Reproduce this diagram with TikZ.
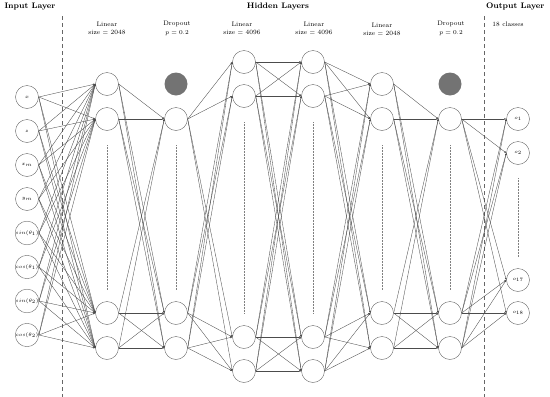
\documentclass[tikz,border=0pt]{standalone}
\usetikzlibrary{arrows.meta}
\tikzset{
  neuron/.style={circle,draw=black!60,minimum size=23pt,inner sep=0pt,font=\fontsize{5}{6}\selectfont},
  dropped/.style={circle,fill=black!55,minimum size=23pt,inner sep=0pt},
  link/.style={black!70,line width=0.35pt,-{Latex[length=2pt,width=1.8pt]}},
  layerlabel/.style={font=\fontsize{6.5}{8.5}\selectfont,align=center},
  header/.style={font=\bfseries\fontsize{8}{9}\selectfont},
  dots/.style={black!50,line width=0.4pt,dash pattern=on 0.5pt off 1pt},
  border/.style={black!60,line width=0.4pt,dash pattern=on 4pt off 3pt}
}
\begin{document}
\begin{tikzpicture}[x=1pt,y=-1pt]
  \useasboundingbox (0,0) rectangle (550,397);
  % Headers
  \node[header,anchor=west] (hin) at (1,7) {Input Layer};
  \node[header] (hhid) at (278,7) {Hidden Layers};
  \node[header,anchor=east] (hout) at (548,7) {Output Layer};
  \draw[border] (62,16) -- (62,397);
  \draw[border] (484,16) -- (484,397);
  % Layer labels
  \node[layerlabel] (t1) at (107,28.5) {Linear\\size $=$ 2048};
  \node[layerlabel] (t2) at (177,28.5) {Dropout\\$p = 0.2$};
  \node[layerlabel] (t3) at (242,28.5) {Linear\\size $=$ 4096};
  \node[layerlabel] (t4) at (314,28.5) {Linear\\size $=$ 4096};
  \node[layerlabel] (t5) at (382,29.5) {Linear\\size $=$ 2048};
  \node[layerlabel] (t6) at (451,28.5) {Dropout\\$p = 0.2$};
  \node[layerlabel] (t7) at (508,24) {18 classes};
  % Input layer
  \foreach \lbl [count=\i] in {x, z, x_m, y_m, sin(\theta_1), cos(\theta_1), sin(\theta_2), cos(\theta_2)}
    \node[neuron] (in\i) at (27,{97+34*(\i-1)}) {$\lbl$};
  % Hidden layers
  \foreach \y [count=\j] in {84,119,313,348} {
    \node[neuron] (a\j) at (107,\y) {};
    \node[neuron] (e\j) at (382,\y) {};
  }
  \foreach \y [count=\j] in {62,96,337,371} {
    \node[neuron] (c\j) at (244,\y) {};
    \node[neuron] (d\j) at (313,\y) {};
  }
  \foreach \y [count=\j] in {119,313,348} {
    \node[neuron] (b\j) at (176,\y) {};
    \node[neuron] (f\j) at (450,\y) {};
  }
  \node[dropped] (bx) at (176,84) {};
  \node[dropped] (fx) at (450,84) {};
  % Output layer
  \foreach \y/\lbl [count=\j] in {119/o_1,153/o_2,280/o_{17},313/o_{18}}
    \node[neuron] (o\j) at (518,\y) {$\lbl$};
  % Dots
  \foreach \x in {107,176,382,450}
    \draw[dots] (\x,145) -- (\x,290);
  \foreach \x in {244,313}
    \draw[dots] (\x,122) -- (\x,313);
  \draw[dots] (518,178) -- (518,257);
  % Connections
  \foreach \i in {1,...,8}
    \foreach \j in {1,...,4}
      \draw[link] (in\i.east) -- (a\j.west);
  \foreach \i in {1,...,4}
    \foreach \j in {1,...,3} {
      \draw[link] (a\i.east) -- (b\j.west);
      \draw[link] (b\j.east) -- (c\i.west);
      \draw[link] (e\i.east) -- (f\j.west);
      \draw[link] (f\j.east) -- (o\i.west);
    }
  \foreach \i in {1,...,4}
    \foreach \j in {1,...,4} {
      \draw[link] (c\i.east) -- (d\j.west);
      \draw[link] (d\i.east) -- (e\j.west);
    }
\end{tikzpicture}
\end{document}
